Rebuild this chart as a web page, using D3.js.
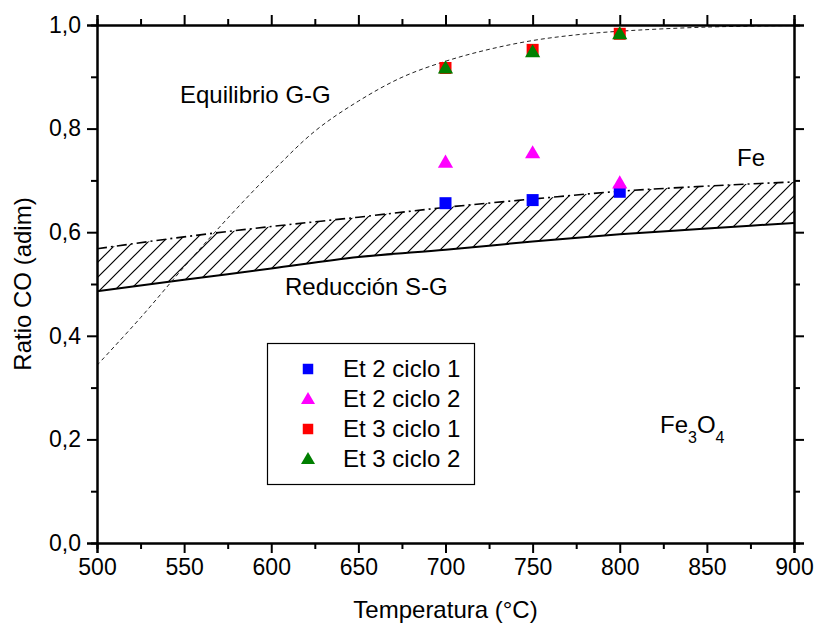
<!DOCTYPE html>
<html>
<head>
<meta charset="utf-8">
<script src="https://cdn.jsdelivr.net/npm/d3@7"></script>
<style>
body { margin: 0; background: #fff; }
text { font-family: Arial, "Liberation Sans", sans-serif; fill: #000; }
</style>
</head>
<body>
<div id="chart"></div>
<script>
// series
let temps = [700, 750, 800];
let et2c1 = [0.656, 0.662, 0.678];
let et2c2 = [0.735, 0.753, 0.695];
let et3c1 = [0.917, 0.952, 0.983];
let et3c2 = [0.917, 0.948, 0.983];

let curveT = [500, 525, 550, 575, 600, 625, 650, 675, 700, 725, 750, 775, 800, 850, 900];
let equilibrio = [0.343, 0.435, 0.533, 0.627, 0.715, 0.795, 0.853, 0.899, 0.930, 0.953, 0.970, 0.981, 0.988, 0.996, 0.999];

let bandT = [500, 550, 600, 650, 700, 750, 800, 850, 900];
let reduccion = [0.486, 0.508, 0.530, 0.552, 0.566, 0.582, 0.596, 0.607, 0.618];
let limiteFe = [0.568, 0.591, 0.611, 0.629, 0.648, 0.664, 0.679, 0.689, 0.697];

let xTicks = [500, 550, 600, 650, 700, 750, 800, 850, 900];
let yTicks = [0, 0.2, 0.4, 0.6, 0.8, 1.0];

let W = 816, H = 624;
let pLeft = 97, pRight = 794, pTop = 25, pBottom = 543;

let x = d3.scaleLinear().domain([500, 900]).range([pLeft, pRight]);
let y = d3.scaleLinear().domain([0, 1]).range([pBottom, pTop]);

let svg = d3.select("#chart").append("svg")
	.attr("width", W)
	.attr("height", H);

let defs = svg.append("defs");
defs.append("clipPath").attr("id", "plot")
	.append("rect")
	.attr("x", pLeft).attr("y", pTop)
	.attr("width", pRight - pLeft).attr("height", pBottom - pTop);

let pat = defs.append("pattern")
	.attr("id", "hatch")
	.attr("patternUnits", "userSpaceOnUse")
	.attr("width", 15).attr("height", 15);
pat.append("path")
	.attr("d", "M-2,2 L2,-2 M0,15 L15,0 M13,17 L17,13")
	.attr("stroke", "#000")
	.attr("stroke-width", 1.2);

let g = svg.append("g").attr("clip-path", "url(#plot)");

// hatched band between the two lines
let band = d3.area()
	.x(function (d, i) { return x(bandT[i]); })
	.y0(function (d, i) { return y(reduccion[i]); })
	.y1(function (d) { return y(d); })
	.curve(d3.curveMonotoneX);

g.append("path")
	.datum(limiteFe)
	.attr("d", band)
	.attr("fill", "url(#hatch)");

let lineOf = function(xs, curve) {
	return d3.line()
		.x(function (d, i) { return x(xs[i]); })
		.y(function (d) { return y(d); })
		.curve(curve || d3.curveMonotoneX);
};

g.append("path")
	.datum(reduccion)
	.attr("d", lineOf(bandT))
	.attr("fill", "none")
	.attr("stroke", "#000")
	.attr("stroke-width", 2);

g.append("path")
	.datum(limiteFe)
	.attr("d", lineOf(bandT))
	.attr("fill", "none")
	.attr("stroke", "#000")
	.attr("stroke-width", 1.6)
	.attr("stroke-dasharray", "10,4,2,4");

g.append("path")
	.datum(equilibrio)
	.attr("d", lineOf(curveT, d3.curveCatmullRom))
	.attr("fill", "none")
	.attr("stroke", "#222")
	.attr("stroke-width", 1)
	.attr("stroke-dasharray", "4,3");

// axes on all four sides, ticks pointing out
let xAxisB = d3.axisBottom(x).tickValues(xTicks).tickSize(10).tickPadding(6).tickFormat(d3.format("d"));
let yAxisL = d3.axisLeft(y).tickValues(yTicks).tickSize(10).tickPadding(6)
	.tickFormat(function (d) { return d3.format(".1f")(d).replace(".", ","); });

let minorX = d3.range(525, 900, 50);
let minorY = d3.range(0.1, 1, 0.2);

function styleAxis(sel) {
	sel.select(".domain").attr("stroke-width", 2);
	sel.selectAll(".tick line").attr("stroke-width", 2);
	sel.selectAll("text").style("font-size", "23px").style("font-family", "Arial, 'Liberation Sans', sans-serif");
}

svg.append("g").attr("transform", "translate(0," + pBottom + ")").call(xAxisB).call(styleAxis);
svg.append("g").attr("transform", "translate(0," + pTop + ")")
	.call(d3.axisTop(x).tickValues(xTicks).tickSize(10).tickFormat("")).call(styleAxis);
svg.append("g").attr("transform", "translate(" + pLeft + ",0)").call(yAxisL).call(styleAxis);
svg.append("g").attr("transform", "translate(" + pRight + ",0)")
	.call(d3.axisRight(y).tickValues(yTicks).tickSize(10).tickFormat("")).call(styleAxis);

svg.append("g").attr("transform", "translate(0," + pBottom + ")")
	.call(d3.axisBottom(x).tickValues(minorX).tickSize(6).tickFormat("")).call(styleAxis);
svg.append("g").attr("transform", "translate(0," + pTop + ")")
	.call(d3.axisTop(x).tickValues(minorX).tickSize(6).tickFormat("")).call(styleAxis);
svg.append("g").attr("transform", "translate(" + pLeft + ",0)")
	.call(d3.axisLeft(y).tickValues(minorY).tickSize(6).tickFormat("")).call(styleAxis);
svg.append("g").attr("transform", "translate(" + pRight + ",0)")
	.call(d3.axisRight(y).tickValues(minorY).tickSize(6).tickFormat("")).call(styleAxis);

// points
let series = [
	{ name: "Et 2 ciclo 1", vals: et2c1, color: "#0000ff", shape: d3.symbolSquare },
	{ name: "Et 2 ciclo 2", vals: et2c2, color: "#ff00ff", shape: d3.symbolTriangle },
	{ name: "Et 3 ciclo 1", vals: et3c1, color: "#ff0000", shape: d3.symbolSquare },
	{ name: "Et 3 ciclo 2", vals: et3c2, color: "#007f00", shape: d3.symbolTriangle }
];

function symbolPath(s, big) {
	if (s.shape === d3.symbolSquare) {
		return d3.symbol().type(d3.symbolSquare).size(big ? 144 : 110)();
	}
	return d3.symbol().type(d3.symbolTriangle).size(big ? 100 : 85)();
}

series.forEach(function (s) {
	svg.append("g").selectAll("path")
		.data(s.vals)
		.enter().append("path")
		.attr("d", symbolPath(s, true))
		.attr("transform", function (d, i) {
			let dy = s.shape === d3.symbolTriangle ? 1 : 0;
			return "translate(" + x(temps[i]) + "," + (y(d) + dy) + ")";
		})
		.attr("fill", s.color);
});

// legend
let lg = svg.append("g");
lg.append("rect")
	.attr("x", 267.5).attr("y", 343.5)
	.attr("width", 207).attr("height", 141)
	.attr("fill", "#fff")
	.attr("stroke", "#000")
	.attr("stroke-width", 1.2);

series.forEach(function (s, i) {
	let cy = 369 + i * 30;
	lg.append("path")
		.attr("d", symbolPath(s, false))
		.attr("transform", "translate(308," + (cy + (s.shape === d3.symbolTriangle ? 1 : 0)) + ")")
		.attr("fill", s.color);
	lg.append("text")
		.attr("x", 343).attr("y", cy + 8)
		.style("font-size", "24px")
		.text(s.name);
});

// region labels
svg.append("text").attr("x", 180).attr("y", 103).style("font-size", "24px").text("Equilibrio G-G");
svg.append("text").attr("x", 737).attr("y", 166).style("font-size", "24px").text("Fe");
svg.append("text").attr("x", 285).attr("y", 295).style("font-size", "24px").text("Reducción S-G");

let fe3o4 = svg.append("text").attr("x", 660).attr("y", 433).style("font-size", "24px");
fe3o4.append("tspan").text("Fe");
fe3o4.append("tspan").attr("dy", 10).style("font-size", "16px").text("3");
fe3o4.append("tspan").attr("dy", -10).text("O");
fe3o4.append("tspan").attr("dy", 10).style("font-size", "16px").text("4");

// axis titles
svg.append("text")
	.attr("x", (pLeft + pRight) / 2).attr("y", 618)
	.attr("text-anchor", "middle")
	.style("font-size", "24px")
	.text("Temperatura (°C)");

svg.append("text")
	.attr("transform", "translate(31," + ((pTop + pBottom) / 2) + ") rotate(-90)")
	.attr("text-anchor", "middle")
	.style("font-size", "24px")
	.text("Ratio CO (adim)");
</script>
</body>
</html>
